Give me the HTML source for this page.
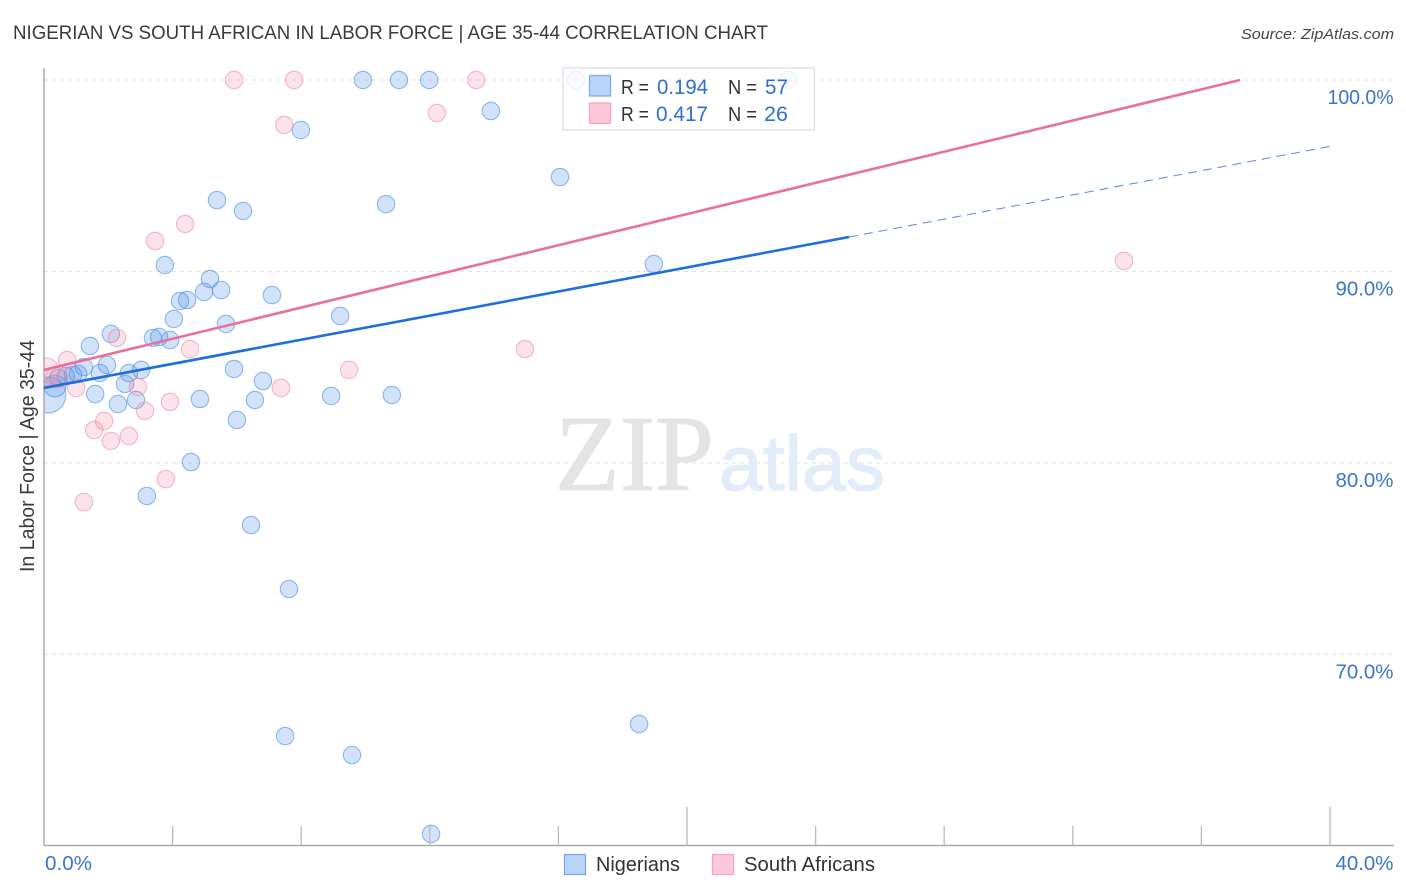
<!DOCTYPE html>
<html>
<head>
<meta charset="utf-8">
<title>Nigerian vs South African in Labor Force | Age 35-44 Correlation Chart</title>
<style>
html,body{margin:0;padding:0;background:#fff;}
svg{display:block;font-family:"Liberation Sans",sans-serif;}
</style>
</head>
<body>
<svg id="chart" width="1406" height="892" viewBox="0 0 1406 892" xmlns="http://www.w3.org/2000/svg">
  <text x="13" y="39" font-size="19" fill="#3a3a3a" textLength="755" lengthAdjust="spacingAndGlyphs">NIGERIAN VS SOUTH AFRICAN IN LABOR FORCE | AGE 35-44 CORRELATION CHART</text>
  <text x="1241" y="39" font-size="15" font-style="italic" fill="#444" textLength="153" lengthAdjust="spacingAndGlyphs">Source: ZipAtlas.com</text>
  <g id="grid"></g>
  <g>
    <text x="555" y="490" font-family="'Liberation Serif',serif" font-size="108" fill="#e4e4e4" stroke="#e4e4e4" stroke-width="1" textLength="159" lengthAdjust="spacingAndGlyphs">ZIP</text>
    <text x="719" y="490" font-size="78" fill="#e3ecf9" stroke="#e3ecf9" stroke-width="1.2" textLength="166" lengthAdjust="spacingAndGlyphs">atlas</text>
  </g>
  <g id="points-blue"></g>
  <g id="points-pink"></g>
  <rect x="0" y="60" width="44" height="790" fill="#fff"/>
  <g id="axes">
    <line x1="44" y1="68" x2="44" y2="845.5" stroke="#aaa" stroke-width="1.5"/>
    <line x1="44" y1="845.5" x2="1394" y2="845.5" stroke="#aaa" stroke-width="1.5"/>
  </g>
  <g id="trends"></g>
  <text transform="translate(34,456) rotate(-90)" text-anchor="middle" font-size="20" fill="#3a3a3a" textLength="232" lengthAdjust="spacingAndGlyphs">In Labor Force | Age 35-44</text>
  <g id="tick-labels"></g>
  <g>
    <rect x="563" y="68" width="251.5" height="62" fill="#fff" fill-opacity="0.82" stroke="#ddd" stroke-width="1.2"/>
    <rect x="589.5" y="75.5" width="21" height="20.5" fill="#b8d4f8" stroke="#7ba6e0" stroke-width="1.2"/>
    <rect x="589.5" y="103" width="21" height="20.5" fill="#fdc8d8" stroke="#f2a5bd" stroke-width="1.2"/>
    <text x="621" y="94" font-size="20" fill="#333" textLength="28" lengthAdjust="spacingAndGlyphs">R =</text>
    <text x="657" y="94" font-size="21" fill="#2f6fd0" textLength="51" lengthAdjust="spacingAndGlyphs">0.194</text>
    <text x="728" y="94" font-size="20" fill="#333" textLength="29" lengthAdjust="spacingAndGlyphs">N =</text>
    <text x="765" y="94" font-size="21" fill="#2f6fd0" textLength="23" lengthAdjust="spacingAndGlyphs">57</text>
    <text x="621" y="121" font-size="20" fill="#333" textLength="28" lengthAdjust="spacingAndGlyphs">R =</text>
    <text x="656" y="121" font-size="21" fill="#2f6fd0" textLength="52" lengthAdjust="spacingAndGlyphs">0.417</text>
    <text x="728" y="121" font-size="20" fill="#333" textLength="29" lengthAdjust="spacingAndGlyphs">N =</text>
    <text x="764" y="121" font-size="21" fill="#2f6fd0" textLength="24" lengthAdjust="spacingAndGlyphs">26</text>
  </g>
  <g>
    <rect x="564.5" y="854.5" width="21" height="20" fill="#b8d4f8" stroke="#7ba6e0" stroke-width="1.2"/>
    <text x="596" y="871" font-size="20" fill="#333" textLength="84" lengthAdjust="spacingAndGlyphs">Nigerians</text>
    <rect x="712.5" y="854.5" width="21" height="20" fill="#fdc8d8" stroke="#f2a5bd" stroke-width="1.2"/>
    <text x="744" y="871" font-size="20" fill="#333" textLength="131" lengthAdjust="spacingAndGlyphs">South Africans</text>
  </g>
</svg>
<script>
const xTickValues = [0,4,8,12,16,20,24,28,32,36,40];
const yGridValues = [100,90,80,70];
const yTickLabels = ["100.0%","90.0%","80.0%","70.0%"];
const xEdgeLabels = ["0.0%","40.0%"];

const blueX = [9.92,11.04,11.98,16.55,23.14,13.90,7.99,16.05,5.38,6.19,10.64,3.76,5.16,18.97,5.51,4.98,4.23,4.45,7.09,4.04,5.66,9.21,2.08,1.43,3.39,3.58,3.92,5.91,3.02,2.64,1.96,1.24,1.74,1.06,0.90,0.68,0.44,2.52,6.81,1.59,0.34,0.12,4.85,2.30,2.86,6.56,8.93,10.82,6.00,4.57,3.20,6.44,7.62,18.51,7.50,9.58,12.04];
const blueY = [100,100,100,100,100,98.38,97.39,94.93,93.73,93.16,93.52,90.34,89.61,90.39,89.03,88.93,88.46,88.51,88.77,87.52,87.26,87.68,86.74,86.11,86.53,86.58,86.42,84.91,84.86,84.70,85.12,85.01,84.70,84.65,84.60,84.54,84.44,84.13,84.28,83.60,84.02,83.55,83.34,83.08,83.29,83.29,83.50,83.55,82.25,80.05,78.28,76.76,73.42,66.37,65.74,64.75,60.63];
const blueWeight = [1,1,1,1,1,1,1,1,1,1,1,1,1,1,1,1,1,1,1,1,1,1,1,1,1,1,1,1,1,1,1,1,1,1,1,1,1,1,1,1,1.6,4.3,1,1,1,1,1,1,1,1,1,1,1,1,1,1,1];

const pinkX = [5.91,7.78,13.44,12.22,7.47,4.39,3.45,33.59,4.54,2.27,0.72,14.96,9.49,7.37,2.92,1.00,3.14,3.92,1.87,1.56,2.64,2.08,3.79,1.24,0.06,0.40];
const pinkY = [100,100,100,98.28,97.65,92.48,91.59,90.55,85.95,86.53,85.38,85.95,84.86,83.92,83.97,83.92,82.72,83.19,82.19,81.72,81.41,81.15,79.16,77.96,84.75,84.49];
const pinkWeight = [1,1,1,1,1,1,1,1,1,1,1,1,1,1,1,1,1,1,1,1,1,1,1,1,2.6,1.6];

const blueTrendX = [0,25.04];
const blueTrendY = [83.92,91.80];
const blueDashX = [25.04,40.06];
const blueDashY = [91.80,96.55];
const pinkTrendX = [0,37.2];
const pinkTrendY = [84.86,100];

const NS = 'http://www.w3.org/2000/svg';
const xScale = v => 44 + v * 32.15;
const yScale = v => 80 + (100 - v) * 19.15;

function make(tag, parentId, attrs) {
  const el = document.createElementNS(NS, tag);
  Object.keys(attrs).forEach(k => el.setAttribute(k, attrs[k]));
  document.getElementById(parentId).appendChild(el);
  return el;
}

yGridValues.forEach(v => {
  const el = make('line', 'grid', {x1: 44, x2: 1394, y1: yScale(v), y2: yScale(v), stroke: '#e2e2e2', 'stroke-width': 1, 'stroke-dasharray': '4 4'});
  
  
});

xTickValues.slice(1).forEach((v, i) => {
  const tall = (i + 1) % 5 === 0;
  const el = make('line', 'axes', {x1: xScale(v), x2: xScale(v), y1: tall ? 807 : 826, y2: 845, stroke: '#bbb', 'stroke-width': 1.3});
  
  
});

yGridValues.forEach((v, i) => {
  const el = make('text', 'tick-labels', {x: 1393.5, y: yScale(v) + 24, 'text-anchor': 'end', 'font-size': 20, fill: '#3b74d0', textLength: yTickLabels[i].length === 6 ? 66 : 58, lengthAdjust: 'spacingAndGlyphs'});
  el.textContent = yTickLabels[i];
  
  
});

const xl0 = make('text', 'tick-labels', {x: 45, y: 870, 'font-size': 20, fill: '#3b74d0', textLength: 47, lengthAdjust: 'spacingAndGlyphs'});
xl0.textContent = xEdgeLabels[0];


const xl1 = make('text', 'tick-labels', {x: 1393.5, y: 870, 'text-anchor': 'end', 'font-size': 20, fill: '#3b74d0', textLength: 58, lengthAdjust: 'spacingAndGlyphs'});
xl1.textContent = xEdgeLabels[1];



blueX.forEach((v, i) => {
  const el = make('circle', 'points-blue', {cx: xScale(v), cy: yScale(blueY[i]), r: 8.7 * Math.sqrt(blueWeight[i]), fill: '#4d8fe6', 'fill-opacity': 0.25, stroke: '#4d8fe6', 'stroke-opacity': 0.62, 'stroke-width': 1.1});
  
  
});

pinkX.forEach((v, i) => {
  const el = make('circle', 'points-pink', {cx: xScale(v), cy: yScale(pinkY[i]), r: 8.7 * Math.sqrt(pinkWeight[i]), fill: '#f287a5', 'fill-opacity': 0.24, stroke: '#ee8aa8', 'stroke-opacity': 0.6, 'stroke-width': 1.1});
  
  
});

const t1 = make('line', 'trends', {x1: xScale(blueDashX[0]), y1: yScale(blueDashY[0]), x2: xScale(blueDashX[1]), y2: yScale(blueDashY[1]), stroke: '#5f86c8', 'stroke-width': 1, 'stroke-dasharray': '9 6'});


const t2 = make('line', 'trends', {x1: xScale(blueTrendX[0]), y1: yScale(blueTrendY[0]), x2: xScale(blueTrendX[1]), y2: yScale(blueTrendY[1]), stroke: '#1f6fd8', 'stroke-width': 2.6});


const t3 = make('line', 'trends', {x1: xScale(pinkTrendX[0]), y1: yScale(pinkTrendY[0]), x2: xScale(pinkTrendX[1]), y2: yScale(pinkTrendY[1]), stroke: '#e8709c', 'stroke-width': 2.6});


</script>
</body>
</html>
